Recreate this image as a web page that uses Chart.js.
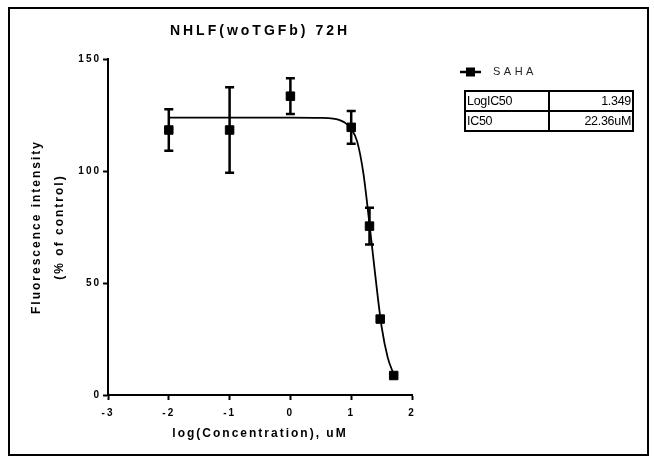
<!DOCTYPE html>
<html><head><meta charset="utf-8">
<script src="https://cdn.jsdelivr.net/npm/chart.js@4.4.1/dist/chart.umd.min.js"></script>
<style>
html,body{margin:0;padding:0;background:#fff;}
#wrap{position:relative;width:654px;height:461px;overflow:hidden;}
#c{position:absolute;left:0;top:0;}
#tbl{position:absolute;left:464px;top:90px;border-collapse:collapse;font-family:"Liberation Sans",Arial,sans-serif;font-size:12.5px;color:#000;}
#tbl td{border:2px solid #000;height:18px;padding:0 1px;letter-spacing:-0.3px;line-height:18px;}
</style></head><body>
<div id="wrap"><canvas id="c" width="654" height="461"></canvas>
<table id="tbl"></table></div>
<script>
// ---- data ----
const chartTitle = 'NHLF(woTGFb) 72H';
const seriesName = 'SAHA';
const logConc  = [-2, -1, 0, 1, 1.301, 1.477, 1.699];
const meanVals = [118.3, 118.3, 133.4, 119.5, 75.4, 33.9, 8.7];
const sdVals   = [9.3, 19.1, 8.0, 7.3, 8.2, 0, 0];
const curveX = [-2, -1, 0, 0.5, 0.7, 0.8, 0.9, 1.0, 1.1, 1.2, 1.3, 1.35, 1.4, 1.5, 1.6, 1.7];
const curveY = [123.8, 123.8, 123.8, 123.7, 123.4, 122.8, 121.5, 118.8, 113.0, 99.0, 76.5, 64.5, 52.5, 30.5, 16.8, 9.2];
const xTicks = [-3, -2, -1, 0, 1, 2];
const yTicks = [0, 50, 100, 150];
const statNames  = ['LogIC50', 'IC50'];
const statValues = ['1.349', '22.36uM'];

const FONT = '"Liberation Sans", Arial, sans-serif';

// table
const tbl = document.getElementById('tbl');
statNames.forEach((n, i) => {
  const tr = document.createElement('tr');
  const a = document.createElement('td'); a.textContent = n; a.style.width = '80px'; a.style.textAlign = 'left';
  const b = document.createElement('td'); b.textContent = statValues[i]; b.style.width = '80px'; b.style.textAlign = 'right';
  tr.appendChild(a); tr.appendChild(b); tbl.appendChild(tr);
});

const spacingPlugin = {
  id: 'spacing',
  beforeDraw(chart) {
    chart.ctx.letterSpacing = '2px';
    const ctx = chart.ctx;
    ctx.save();
    ctx.fillStyle = '#fff';
    ctx.fillRect(0, 0, chart.width, chart.height);
    ctx.restore();
  },
  afterInit(chart) {
    const tb = chart.titleBlock;
    if (tb && !tb._wrapped) {
      const orig = tb.draw;
      tb.draw = function () {
        const c = this.ctx; const prev = c.letterSpacing;
        c.letterSpacing = '3px'; orig.apply(this, arguments); c.letterSpacing = prev;
      };
      tb._wrapped = true;
    }
  }
};

const errorBarPlugin = {
  id: 'errbars',
  afterDatasetsDraw(chart) {
    const ctx = chart.ctx, xs = chart.scales.x, ys = chart.scales.y;
    ctx.save();
    ctx.strokeStyle = '#000';
    ctx.lineWidth = 2.5;
    ctx.lineCap = 'butt';
    logConc.forEach((lx, i) => {
      if (!sdVals[i]) return;
      const x = xs.getPixelForValue(lx);
      const yt = ys.getPixelForValue(meanVals[i] + sdVals[i]);
      const yb = ys.getPixelForValue(meanVals[i] - sdVals[i]);
      ctx.beginPath();
      ctx.moveTo(x, yt); ctx.lineTo(x, yb);
      ctx.moveTo(x - 4.5, yt); ctx.lineTo(x + 4.5, yt);
      ctx.moveTo(x - 4.5, yb); ctx.lineTo(x + 4.5, yb);
      ctx.stroke();
    });
    ctx.restore();
  },
  afterDraw(chart) {
    const ctx = chart.ctx;
    ctx.save();
    // outer frame
    ctx.strokeStyle = '#000';
    ctx.lineWidth = 2;
    ctx.strokeRect(9, 8, 639, 447);
    // legend
    ctx.lineWidth = 2.5;
    ctx.beginPath(); ctx.moveTo(460, 72); ctx.lineTo(481, 72); ctx.stroke();
    ctx.fillStyle = '#000';
    ctx.fillRect(466, 67.5, 9, 9);
    ctx.fillStyle = '#222';
    ctx.font = '11px ' + FONT;
    ctx.letterSpacing = '3.5px';
    ctx.textBaseline = 'middle';
    ctx.textAlign = 'left';
    ctx.fillText(seriesName, 493, 72);
    ctx.restore();
  }
};

new Chart(document.getElementById('c'), {
  type: 'scatter',
  data: {
    datasets: [
      {
        label: seriesName + ' fit',
        data: curveX.map((x, i) => ({x, y: curveY[i]})),
        showLine: true,
        borderColor: '#000',
        borderWidth: 1.8,
        pointRadius: 0,
        cubicInterpolationMode: 'monotone',
        fill: false
      },
      {
        label: seriesName,
        data: logConc.map((x, i) => ({x, y: meanVals[i]})),
        showLine: false,
        pointStyle: 'rect',
        pointRadius: 6,
        pointBorderWidth: 1,
        pointBackgroundColor: '#000',
        pointBorderColor: '#000'
      }
    ]
  },
  options: {
    responsive: false,
    devicePixelRatio: 1,
    animation: false,
    layout: { padding: { left: 0, right: 242, top: 0, bottom: 0 } },
    plugins: {
      legend: { display: false },
      tooltip: { enabled: false },
      title: {
        display: true,
        text: chartTitle,
        fullSize: false,
        color: '#000',
        font: { family: FONT, size: 14, weight: 'bold', lineHeight: 1.2 },
        padding: { top: 23, bottom: 19.2 }
      }
    },
    scales: {
      x: {
        type: 'linear',
        min: -3, max: 2,
        afterFit(s) { s.height = 66; },
        afterBuildTicks(s) { s.ticks = xTicks.map(v => ({value: v})); },
        border: { display: true, color: '#000', width: 2 },
        grid: { display: true, drawOnChartArea: false, drawTicks: true, tickLength: 5, tickWidth: 2, tickColor: '#000' },
        ticks: { color: '#000', font: { family: FONT, size: 10, weight: 'bold' }, padding: 7, maxRotation: 0 },
        title: {
          display: true, text: 'log(Concentration), uM', color: '#000',
          font: { family: FONT, size: 12, weight: 'bold', lineHeight: 1.2 },
          padding: { top: 0, bottom: 20 }
        }
      },
      y: {
        type: 'linear',
        min: 0, max: 150,
        afterFit(s) { s.width = 108; },
        afterBuildTicks(s) { s.ticks = yTicks.map(v => ({value: v})); },
        border: { display: true, color: '#000', width: 2 },
        grid: { display: true, drawOnChartArea: false, drawTicks: true, tickLength: 5, tickWidth: 2, tickColor: '#000' },
        ticks: { color: '#000', font: { family: FONT, size: 10, weight: 'bold' }, padding: 2 },
        title: {
          display: true, text: ['Fluorescence intensity', '(% of control)'], color: '#000',
          font: { family: FONT, size: 12, weight: 'bold', lineHeight: 23 / 12 },
          padding: { top: 25, bottom: 0 }
        }
      }
    }
  },
  plugins: [spacingPlugin, errorBarPlugin]
});
</script>
</body></html>
